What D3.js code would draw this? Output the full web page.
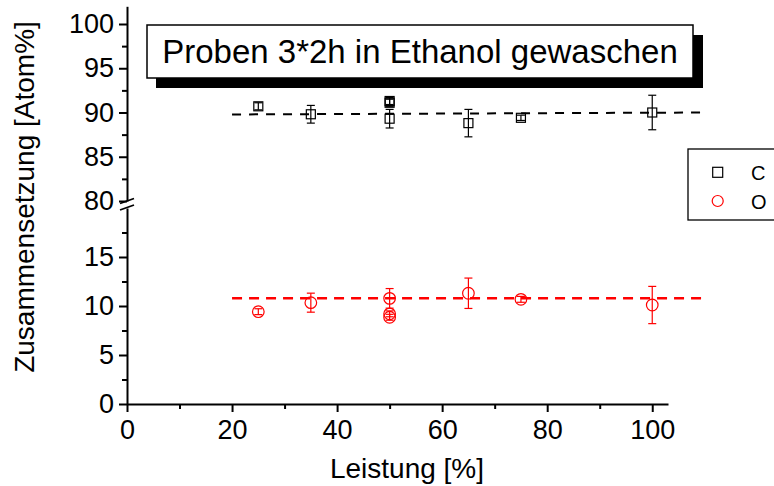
<!DOCTYPE html>
<html>
<head>
<meta charset="utf-8">
<script src="https://cdn.jsdelivr.net/npm/d3@7"></script>
<style>
  body { margin: 0; background: #fff; }
  text { font-family: "Liberation Sans", Arial, sans-serif; }
</style>
</head>
<body>
<div id="chart"></div>
<script>
var svgWidth = 774;
var svgHeight = 486;

// data
var leistung = [25, 35, 50, 50, 50, 65, 75, 100];
var cValues = [90.7, 89.8, 91.3, 91.1, 89.3, 88.8, 89.4, 90.0];
var cErrors = [0.4, 1.0, 0.4, 0.4, 1.05, 1.55, 0.3, 1.95];
var oValues = [9.42, 10.34, 10.78, 9.2, 8.85, 11.3, 10.68, 10.1];
var oErrors = [0.3, 0.97, 1.0, 0.3, 0.3, 1.55, 0.3, 1.9];
var fitX = [20, 110];
var cFit = [89.78, 90.0];
var oFit = [10.78, 10.78];
var xTicks = [0, 20, 40, 60, 80, 100];
var xMinor = [10, 30, 50, 70, 90];
var yTicksLow = [0, 5, 10, 15];
var yMinorLow = [2.5, 7.5, 12.5, 17.5];
var yTicksHigh = [80, 85, 90, 95, 100];
var yMinorHigh = [82.5, 87.5, 92.5, 97.5];
var titleText = "Proben 3*2h in Ethanol gewaschen";
var seriesNames = ["C", "O"];

var svg = d3.select("#chart")
  .append("svg")
  .attr("width", svgWidth)
  .attr("height", svgHeight);

var xScale = d3.scaleLinear().domain([0, 103]).range([127, 668]);
var yLow = d3.scaleLinear().domain([0, 20]).range([404, 208]);
var yHigh = d3.scaleLinear().domain([80, 102]).range([201, 6.3]);

// axes
var xAxis = svg.append("g")
  .attr("transform", "translate(0,404)")
  .call(d3.axisBottom(xScale).tickValues(xTicks).tickSize(8).tickSizeOuter(0).tickPadding(8));
svg.append("g")
  .attr("transform", "translate(0,404)")
  .call(d3.axisBottom(xScale).tickValues(xMinor).tickSize(5).tickSizeOuter(0).tickFormat(""))
  .select(".domain").remove();

var yAxisLow = svg.append("g")
  .attr("transform", "translate(127,0)")
  .call(d3.axisLeft(yLow).tickValues(yTicksLow).tickSize(8).tickSizeOuter(0).tickPadding(5));
svg.append("g")
  .attr("transform", "translate(127,0)")
  .call(d3.axisLeft(yLow).tickValues(yMinorLow).tickSize(5).tickSizeOuter(0).tickFormat(""))
  .select(".domain").remove();

var yAxisHigh = svg.append("g")
  .attr("transform", "translate(127,0)")
  .call(d3.axisLeft(yHigh).tickValues(yTicksHigh).tickSize(8).tickSizeOuter(0).tickPadding(5));
svg.append("g")
  .attr("transform", "translate(127,0)")
  .call(d3.axisLeft(yHigh).tickValues(yMinorHigh).tickSize(5).tickSizeOuter(0).tickFormat(""))
  .select(".domain").remove();

svg.selectAll(".domain, .tick line")
  .attr("stroke", "#000")
  .attr("stroke-width", 2);
svg.selectAll(".tick text")
  .attr("font-size", 27)
  .attr("fill", "#000")
  .style("font-family", "Liberation Sans, Arial, sans-serif");

// axis break marks
var brk = svg.append("g").attr("stroke", "#000").attr("stroke-width", 1.8);
brk.append("line").attr("x1", 120).attr("y1", 203.5).attr("x2", 134).attr("y2", 198.5);
brk.append("line").attr("x1", 120).attr("y1", 210).attr("x2", 134).attr("y2", 205);

// axis titles
svg.append("text")
  .attr("transform", "translate(34,197) rotate(-90)")
  .attr("text-anchor", "middle")
  .attr("font-size", 28)
  .text("Zusammensetzung [Atom%]");

svg.append("text")
  .attr("x", 407)
  .attr("y", 478)
  .attr("text-anchor", "middle")
  .attr("font-size", 28)
  .text("Leistung [%]");

// fit lines
var fitLine = function(scale, ys) {
  return d3.line()
    .x((d, i) => xScale(fitX[i]))
    .y(d => scale(d))(ys);
};
svg.append("path")
  .attr("d", fitLine(yHigh, cFit))
  .attr("fill", "none")
  .attr("stroke", "#000")
  .attr("stroke-width", 2)
  .attr("stroke-dasharray", "9,8");
svg.append("path")
  .attr("d", fitLine(yLow, oFit))
  .attr("fill", "none")
  .attr("stroke", "#ff0000")
  .attr("stroke-width", 2.5)
  .attr("stroke-dasharray", "10,7");

// error bars
function drawErrors(values, errors, scale, color) {
  var g = svg.append("g").attr("stroke", color).attr("stroke-width", 1.2);
  values.forEach(function(v, i) {
    var x = xScale(leistung[i]);
    var y1 = scale(v - errors[i]);
    var y2 = scale(v + errors[i]);
    g.append("line").attr("x1", x).attr("x2", x).attr("y1", y1).attr("y2", y2);
    g.append("line").attr("x1", x - 4).attr("x2", x + 4).attr("y1", y1).attr("y2", y1);
    g.append("line").attr("x1", x - 4).attr("x2", x + 4).attr("y1", y2).attr("y2", y2);
  });
}
drawErrors(cValues, cErrors, yHigh, "#000");
drawErrors(oValues, oErrors, yLow, "#ff0000");

// markers
svg.selectAll(".cPoint")
  .data(cValues)
  .enter()
  .append("rect")
  .attr("class", "cPoint")
  .attr("x", (d, i) => xScale(leistung[i]) - 4.5)
  .attr("y", d => yHigh(d) - 4.5)
  .attr("width", 9)
  .attr("height", 9)
  .attr("fill", "none")
  .attr("stroke", "#000")
  .attr("stroke-width", 1.2);

svg.selectAll(".oPoint")
  .data(oValues)
  .enter()
  .append("circle")
  .attr("class", "oPoint")
  .attr("cx", (d, i) => xScale(leistung[i]))
  .attr("cy", d => yLow(d))
  .attr("r", 5.8)
  .attr("fill", "none")
  .attr("stroke", "#ff0000")
  .attr("stroke-width", 1.2);

// title box with shadow
svg.append("rect")
  .attr("x", 156).attr("y", 35).attr("width", 547).attr("height", 53)
  .attr("fill", "#000");
svg.append("rect")
  .attr("x", 147).attr("y", 25).attr("width", 546).attr("height", 53)
  .attr("fill", "#fff")
  .attr("stroke", "#000")
  .attr("stroke-width", 1.5);
svg.append("text")
  .attr("x", 420)
  .attr("y", 63)
  .attr("text-anchor", "middle")
  .attr("font-size", 33)
  .text(titleText);

// legend
var legend = svg.append("g");
legend.append("rect")
  .attr("x", 688).attr("y", 149).attr("width", 100).attr("height", 71)
  .attr("fill", "#fff")
  .attr("stroke", "#000")
  .attr("stroke-width", 1.3);
legend.append("rect")
  .attr("x", 712.7).attr("y", 167.3).attr("width", 10).attr("height", 10)
  .attr("fill", "none").attr("stroke", "#000").attr("stroke-width", 1.2);
legend.append("circle")
  .attr("cx", 717.7).attr("cy", 201).attr("r", 5.5)
  .attr("fill", "none").attr("stroke", "#ff0000").attr("stroke-width", 1.2);
legend.selectAll(".legText")
  .data(seriesNames)
  .enter()
  .append("text")
  .attr("class", "legText")
  .attr("x", 751)
  .attr("y", (d, i) => 179.5 + i * 29)
  .attr("font-size", 20)
  .text(d => d);
</script>
</body>
</html>
